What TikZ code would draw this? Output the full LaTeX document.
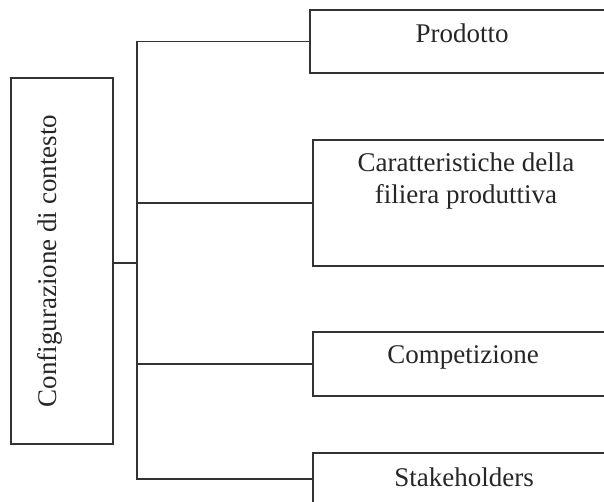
\documentclass[tikz,border=0pt]{standalone}
\usepackage{fontspec}
\setmainfont{Liberation Serif}
\begin{document}
\begin{tikzpicture}[x=1pt,y=-1pt,
  box/.style={draw=black!80, line width=1.3pt, inner sep=0pt},
  lbl/.style={text=black!85, font=\fontsize{27}{32}\selectfont, inner sep=0pt, align=center},
  conn/.style={draw=black!80, line width=1.3pt}]
\useasboundingbox (0,0) rectangle (604,501);
\clip (0,0) rectangle (604,501);
% left box
\node[box, minimum width=102pt, minimum height=366pt] (L) at (62,261) {};
\node[lbl, rotate=90] (Lt) at (50,261) {Configurazione di contesto};
% right boxes
\node[box, minimum width=340pt, minimum height=63pt] (P) at (480,41.5) {};
\node[lbl] (Pt) at (462,33) {Prodotto};
\node[box, minimum width=340pt, minimum height=126pt] (F) at (483,203) {};
\node[lbl] (Ft) at (466,181) {Caratteristiche della\\filiera produttiva};
\node[box, minimum width=340pt, minimum height=64pt] (C) at (483,364) {};
\node[lbl] (Ct) at (463,357) {Competizione};
\node[box, minimum width=340pt, minimum height=52pt] (S) at (483,479) {};
\node[lbl] (St) at (464,477) {Stakeholders};
% connectors
\coordinate (tt) at (137,41.5);
\coordinate (tb) at (137,479);
\draw[conn] (P.west) -- (tt) -- (tb) -- (S.west);
\draw[conn] (F.west) -- (F.west -| tt);
\draw[conn] (C.west) -- (C.west -| tt);
\draw[conn] ([yshift=-2pt]L.east) -- ([yshift=-2pt]L.east -| tt);
\end{tikzpicture}
\end{document}
